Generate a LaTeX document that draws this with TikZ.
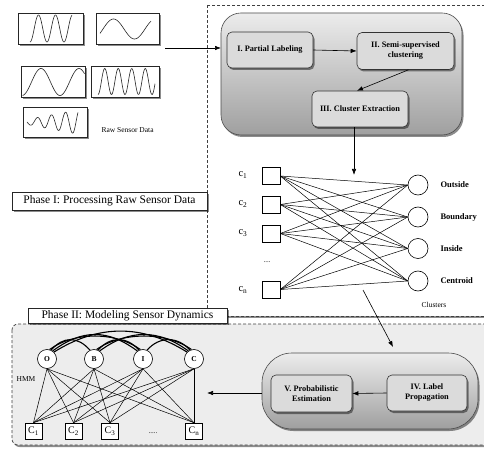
\documentclass[tikz,border=0pt]{standalone}
\usepackage{fontspec}
\setmainfont{Liberation Serif}
\usetikzlibrary{arrows.meta,shadows}
\begin{document}
\begin{tikzpicture}[x=1pt,y=-1pt,
  dshadow/.style={drop shadow={shadow xshift=1.5pt,shadow yshift=-2pt,fill=black,opacity=.45}},
  dbox/.style={draw=black!75, line width=0.7pt, dash pattern=on 3pt off 2pt},
  rawbox/.style={draw=black!85, line width=0.8pt, fill=white, dshadow},
  wave/.style={line width=0.6pt, black!85},
  stepbox/.style={draw=black!80, line width=0.6pt, fill=gray!28, rounded corners=5pt,
     font=\bfseries\fontsize{8.3}{10}\selectfont, align=center, dshadow, inner sep=2pt},
  cont/.style={draw=black!70, line width=0.6pt, top color=gray!15, bottom color=gray!75, dshadow},
  sq/.style={draw, line width=0.6pt, minimum width=18pt, minimum height=17pt, inner sep=0pt, fill=white},
  hsq/.style={draw, line width=0.6pt, minimum width=17pt, minimum height=16pt, inner sep=0pt, fill=white, font=\fontsize{10}{11}\selectfont},
  circ/.style={draw, circle, line width=0.6pt, minimum size=20pt, inner sep=0pt, fill=white},
  hcirc/.style={draw, circle, line width=0.6pt, minimum size=19pt, inner sep=0pt, fill=white, font=\bfseries\fontsize{7.5}{8}\selectfont},
  arr/.style={-{Latex[length=6pt,width=4.5pt]}, line width=0.6pt},
  edg/.style={line width=0.5pt},
  arc/.style={line width=1.1pt},
  phase/.style={draw=black!85, fill=white, line width=0.6pt, inner sep=0pt, font=\fontsize{11.5}{13}\selectfont, dshadow},
  lbl/.style={font=\bfseries\fontsize{8.5}{9}\selectfont, anchor=west},
  clbl/.style={font=\fontsize{10.5}{11}\selectfont}
]
\useasboundingbox (0,0) rectangle (484,454);

% ---------- Phase boxes ----------
\path[dbox, fill=white, dshadow] (207,5) rectangle (500,316);
\path[dbox, fill=gray!14, rounded corners=6pt, dshadow] (12,324) rectangle (505,445);

\node[phase, minimum width=195pt, minimum height=18pt] (ph1) at (109.5,201) {Phase I: Processing Raw Sensor Data};
\node[phase, minimum width=199pt, minimum height=15pt] (ph2) at (127.5,315.5) {Phase II: Modeling Sensor Dynamics};

% ---------- Raw sensor data ----------
\node[rawbox, minimum width=65pt, minimum height=31pt, inner sep=0pt] (r1) at (50.5,28.5) {};
\node[rawbox, minimum width=63pt, minimum height=31pt, inner sep=0pt] (r2) at (127.5,28.5) {};
\node[rawbox, minimum width=64pt, minimum height=31pt, inner sep=0pt] (r3) at (53,81.5) {};
\node[rawbox, minimum width=68pt, minimum height=31pt, inner sep=0pt] (r4) at (125,81.5) {};
\node[rawbox, minimum width=64pt, minimum height=30pt, inner sep=0pt] (r5) at (55,122) {};

\draw[wave, domain=30:72, samples=80, smooth] plot (\x, {28.5+13.5*cos(((\x-30)/17)*360)});
\draw[wave, domain=100:151, samples=60, smooth] plot (\x, {29-10*sin(((\x-103)/42)*360)});
\draw[wave, domain=22.5:84.5, samples=80, smooth] plot (\x, {82+13.5*cos(((\x-22)/38)*360)});
\draw[wave, domain=98:155, samples=120, smooth] plot (\x, {81.5+13*cos(((\x-98)/13.5)*360)});
\draw[wave, domain=27:78, samples=100, smooth] plot (\x, {122+(2.5+0.19*(\x-27))*sin(((\x-27)/14)*360)});

\node[font=\fontsize{7.5}{9}\selectfont, anchor=west] (rawlbl) at (98,130) {Raw Sensor Data};

% ---------- Top container ----------
\node[cont, rounded corners=20pt, minimum width=241pt, minimum height=122pt] (topc) at (341.5,74) {};
\node[stepbox, minimum width=86pt, minimum height=36pt] (s1) at (270,50) {I. Partial Labeling};
\node[stepbox, minimum width=97pt, minimum height=37pt] (s2) at (405.5,51) {II. Semi-supervised\\clustering};
\node[stepbox, minimum width=96pt, minimum height=36pt] (s3) at (360,109) {III. Cluster Extraction};

\coordinate (rawout) at (165,48);
\coordinate (rawin) at (221,48);
\draw[arr] (rawout) -- (rawin);
\draw[arr] (s1.east) -- (s2.west);
\draw[arr] ([xshift=3pt]s2.south) -- ([xshift=-3pt]s3.north);
\coordinate (bipin) at (354,175);
\draw[arr] (s3.south -| bipin) -- (bipin);

% ---------- Bipartite ----------
\node[sq] (c1) at (271,176) {};
\node[sq] (c2) at (271,204.5) {};
\node[sq] (c3) at (271,233.5) {};
\node[sq] (cn) at (271,289.5) {};
\node[clbl] (lc1) at (243,175) {c\textsubscript{1}};
\node[clbl] (lc2) at (243,204) {c\textsubscript{2}};
\node[clbl] (lc3) at (243,233) {c\textsubscript{3}};
\node[clbl] (lcn) at (243,290) {c\textsubscript{n}};
\node[font=\fontsize{7}{8}\selectfont] (cdots) at (267,262) {....};

\node[circ] (out) at (418,185) {};
\node[circ] (bnd) at (418,217) {};
\node[circ] (ins) at (418,248.5) {};
\node[circ] (cen) at (418,281) {};
\node[lbl] (lout) at (437,185) {Outside};
\node[lbl] (lbnd) at (437,217) {Boundary};
\node[lbl] (lins) at (437,248.5) {Inside};
\node[lbl] (lcen) at (437,281) {Centroid};
\node[font=\fontsize{7.5}{9}\selectfont] (clus) at (434,305) {Clusters};

\foreach \s in {c1,c2,c3,cn}
  \foreach \t in {out,bnd,ins,cen}
    \draw[edg] (\s.east) -- (\t.west);

\coordinate (p2a) at (363,290);
\coordinate (p2b) at (393,347);
\draw[arr] (p2a) -- (p2b);

% ---------- Bottom container ----------
\node[cont, rounded corners=30pt, minimum width=216pt, minimum height=76pt] (botc) at (370,391) {};
\node[stepbox, minimum width=81pt, minimum height=37pt] (s5) at (311.5,393.5) {V. Probabilistic\\Estimation};
\node[stepbox, minimum width=80pt, minimum height=36pt] (s4) at (427,393) {IV. Label\\Propagation};
\draw[arr] (s4.west) -- (s5.east);
\coordinate (hmmin) at (207,393);
\draw[arr] (botc.west |- hmmin) -- (hmmin);

% ---------- HMM ----------
\node[hcirc] (O) at (47,359) {O};
\node[hcirc] (B) at (94,359) {B};
\node[hcirc] (I) at (143,359) {I};
\node[hcirc] (C) at (194,359) {C};
\node[font=\fontsize{7.5}{9}\selectfont] (hmm) at (26,379) {HMM};

\node[hsq] (h1) at (33.5,431) {C\textsubscript{1}};
\node[hsq] (h2) at (73.5,431) {C\textsubscript{2}};
\node[hsq] (h3) at (110,431) {C\textsubscript{3}};
\node[hsq] (hn) at (194,431) {C\textsubscript{n}};
\node[font=\fontsize{7}{8}\selectfont] (hdots) at (153,433) {.....};

\foreach \s in {O,B,I,C}
  \foreach \t in {h1,h2,h3,hn}
    \draw[edg] (\s.south) -- (\t.north);

\draw[arc] (O.65) .. controls +(12,-14) and +(-12,-14) .. (B.115);
\draw[arc] (O.55) .. controls +(30,-22) and +(-30,-22) .. (I.125);
\draw[arc] (O.45) .. controls +(45,-28) and +(-45,-28) .. (C.135);
\draw[arc] (B.65) .. controls +(12,-14) and +(-12,-14) .. (I.115);
\draw[arc] (B.55) .. controls +(30,-22) and +(-30,-22) .. (C.125);
\draw[arc] (I.65) .. controls +(12,-14) and +(-12,-14) .. (C.115);
\draw[arc] (O.75) .. controls +(25,-18) and +(-25,-18) .. (I.105);
\draw[arc] (B.75) .. controls +(25,-18) and +(-25,-18) .. (C.105);
\end{tikzpicture}
\end{document}
